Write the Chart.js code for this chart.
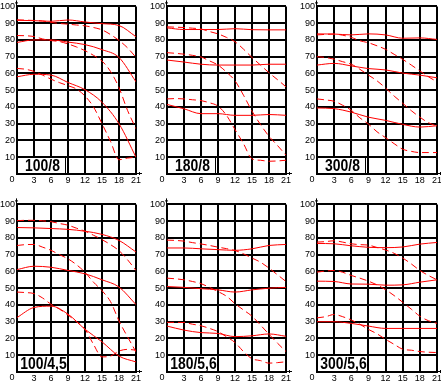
<!DOCTYPE html>
<html><head><meta charset="utf-8">
<script src="https://cdn.jsdelivr.net/npm/chart.js@4/dist/chart.umd.min.js"></script>
<style>
html,body{margin:0;padding:0;background:#fff;overflow:hidden;width:441px;height:382px;position:relative}
canvas{position:absolute;display:block}
</style></head><body>
<canvas id="c0"></canvas><canvas id="c1"></canvas><canvas id="c2"></canvas>
<canvas id="c3"></canvas><canvas id="c4"></canvas><canvas id="c5"></canvas>
<script>
// ---- data ----
const X_TICKS = [0,3,6,9,12,15,18,21];
const Y_TICKS = [0,10,20,30,40,50,60,70,80,90,100];
const XS = [0,3,6,9,12,15,18,21];                                   // solid-line sample positions
const XD = [0,1.5,3,4.5,6,7.5,9,10.5,12,13.5,15,16.5,18,19.5,21];    // dashed-line sample positions
const TITLES = ['100/8','180/8','300/8','100/4,5','180/5,6','300/5,6'];

// 100/8
const P1_S_TOP = [91.7,91.5,91.1,91.9,90.7,89.7,88.6,81.9];
const P1_D_TOP = [92,91.8,91.6,91.3,90.5,89.8,89.4,88.9,88.4,87.4,86,83.2,79.7,75.3,69.6];
const P1_S_MID = [78.5,80,80,78.7,77.2,74.2,69.5,55];
const P1_D_MID = [82.6,82.5,82,80.6,79.6,79,77.6,75.8,73.6,70.8,67.4,61.2,51.5,38,27];
const P1_S_LOW = [58,59.5,59,54.6,50.3,42.8,30,10];
const P1_D_LOW = [63,62.5,61.2,59,56.6,54.5,52.7,50.7,46.5,40,30,19.5,8.5,9.5,10];
// 180/8
const P2_S_TOP = [87.2,86.2,86.2,86.2,86.7,86.1,86,86];
const P2_D_TOP = [87.8,87.6,87.4,87,86.5,85,83.6,81.5,78.9,74.5,69.5,65,60.4,56.3,52];
const P2_S_MID = [68,66.8,65.5,65,65,65,65.5,65.5];
const P2_D_MID = [72.4,72,71.5,70.8,69.8,67.5,65,60.8,55.6,47,37.5,29.5,22.5,17,11.2];
const P2_S_LOW = [41.5,38.9,36,36,35,35,35.5,35];
const P2_D_LOW = [44.8,45,44.8,44.3,43.8,42.5,40.5,35,26.5,18.1,9,8.2,7.6,7.8,8.2];
// 300/8
const P3_S_TOP = [83.6,83.5,83,83.6,83,81,81.2,80.3];
const P3_D_TOP = [83,83.3,83.5,82.8,81.5,79.5,78.3,76.5,74.4,71.4,68.4,65,61.5,58,55];
const P3_S_MID = [65,66,64.5,62.9,62.1,60.2,59,57.4];
const P3_D_MID = [70,69.5,68.5,67,65.5,62.5,59,55.6,51.3,46.5,42.2,37.8,33.9,30.6,28.6];
const P3_S_LOW = [39.4,39,36.9,33.9,32,29.6,28,28.8];
const P3_D_LOW = [44.8,44.2,43.4,41,38,33.5,29.8,25.2,21.7,18.1,14.8,13.5,12.8,12.8,12.8];
// 100/4,5
const P4_S_TOP = [86.2,86,85.6,85.1,84,82.1,78.5,71.6];
const P4_D_TOP = [90.3,90.5,90.5,90.2,89.7,88.6,87.6,85.8,84,81.6,79,76,72.4,67,60.6];
const P4_S_MID = [61.1,63.1,62.5,60.6,58.6,55,50.7,40.2];
const P4_D_MID = [75.5,76,76.1,74.5,72.6,70,67.5,64,59.5,53.6,48.5,42,30.5,21,12];
const P4_S_LOW = [32.5,38.5,39.3,34.5,25.5,18,9.5,6];
const P4_D_LOW = [47.7,47.4,46.8,44.2,40.4,37.5,34,30,25.5,16.5,9,9.5,12.5,13.5,13];
// 180/5,6
const P5_S_TOP = [74,74,73.5,73,72.6,73.5,75.5,76.1];
const P5_D_TOP = [78.7,78.5,78.1,77.2,76.4,75.5,74.5,73.6,72.5,70.5,68,65.5,62,58,54];
const P5_S_MID = [51,50.5,49.7,49,47.7,49,50,50.5];
const P5_D_MID = [56,55.6,55,54,52.7,50.5,48,45.2,40.8,37,33.3,28,22.5,17.2,12.2];
const P5_S_LOW = [27.4,25,23.5,23,21.1,21.6,22.7,21.3];
const P5_D_LOW = [29.6,29.6,29.5,28.5,27.6,26,24.1,21,17.6,12.2,7.9,6.8,5.3,5.6,6.1];
// 300/5,6
const P6_S_TOP = [76.7,76.5,75.3,74.4,74.2,74.6,76.3,77.3];
const P6_D_TOP = [77.5,77.8,78.3,77.5,76.5,76,75.7,74.3,72.8,70.8,68,64.5,60.6,57.6,55];
const P6_S_MID = [54.2,54,52.5,52.4,51.8,52,53.6,55];
const P6_D_MID = [59.6,60.2,60.6,59.5,57.6,56,54.2,52,49.1,45.6,41.6,37.5,33.3,30.6,29];
const P6_S_LOW = [30,30,29,27.4,26,26,26,26];
const P6_D_LOW = [32.3,33,34.3,33,31,28.5,25.4,22.8,19.5,16.5,13.6,13,12.2,11.8,11.6];

const SERIES = [
  [P1_S_TOP,P1_D_TOP,P1_S_MID,P1_D_MID,P1_S_LOW,P1_D_LOW],
  [P2_S_TOP,P2_D_TOP,P2_S_MID,P2_D_MID,P2_S_LOW,P2_D_LOW],
  [P3_S_TOP,P3_D_TOP,P3_S_MID,P3_D_MID,P3_S_LOW,P3_D_LOW],
  [P4_S_TOP,P4_D_TOP,P4_S_MID,P4_D_MID,P4_S_LOW,P4_D_LOW],
  [P5_S_TOP,P5_D_TOP,P5_S_MID,P5_D_MID,P5_S_LOW,P5_D_LOW],
  [P6_S_TOP,P6_D_TOP,P6_S_MID,P6_D_MID,P6_S_LOW,P6_D_LOW]
];

// ---- layout ----
const AREAS = [
  {L:17,R:136,T:5,B:174},{L:167,R:286,T:5,B:174},{L:317,R:437,T:5,B:174},
  {L:17,R:136,T:203,B:372},{L:167,R:286,T:203,B:372},{L:317,R:437,T:203,B:372}
];
const AXW = 17, PT = 6, PR = 8, XH = 14;
const TICK_FONT = {family:'"Liberation Sans", Arial, sans-serif', size:9};
const RED = '#ff0000';

const decor = {
  id:'decor',
  afterDraw(chart){
    const ctx = chart.ctx, a = chart.chartArea, ys = chart.scales.y;
    const L = a.left, R = a.right, T = a.top, B = a.bottom;
    ctx.save();
    // axis arrows
    ctx.strokeStyle = '#000'; ctx.lineWidth = 1;
    ctx.beginPath();
    ctx.moveTo(L-0.5, T); ctx.lineTo(L-0.5, T-6);
    ctx.moveTo(L-2, T-3.5); ctx.lineTo(L+1, T-3.5);
    ctx.moveTo(R, B-0.5); ctx.lineTo(R+6, B-0.5);
    ctx.moveTo(R+3.5, B-2); ctx.lineTo(R+3.5, B+1);
    ctx.stroke();
    // corner "0"
    ctx.fillStyle = '#000';
    ctx.font = '9px "Liberation Sans", Arial, sans-serif';
    ctx.textAlign = 'center'; ctx.textBaseline = 'middle';
    ctx.fillText('0', L-5, B+5.5);
    // title box
    const title = chart.options.plugins.decor.title;
    ctx.font = 'bold 16px "Liberation Sans", Arial, sans-serif';
    const sx = 0.87;
    const tw = ctx.measureText(title).width * sx;
    const w = Math.max(48, Math.round(tw + 4));
    const y10 = Math.round(ys.getPixelForValue(10));
    ctx.fillStyle = '#fff';
    ctx.fillRect(L+1, y10+1, w-1, B-y10-2);
    ctx.fillStyle = '#000';
    ctx.fillRect(L+w, y10, 1, B-y10);
    ctx.save();
    ctx.translate(L + w/2 + 1.5, (y10+B)/2 + 1);
    ctx.scale(sx, 1);
    ctx.textAlign = 'center'; ctx.textBaseline = 'middle';
    ctx.fillText(title, 0, 0);
    ctx.restore();
    ctx.restore();
  }
};

AREAS.forEach((ar, i) => {
  const cv = document.getElementById('c'+i);
  const W = AXW + (ar.R - ar.L) + PR, H = PT + (ar.B - ar.T) + XH;
  cv.width = W; cv.height = H;
  cv.style.left = (ar.L - AXW) + 'px';
  cv.style.top = (ar.T - PT) + 'px';
  cv.style.width = W + 'px'; cv.style.height = H + 'px';
  const ds = SERIES[i].map((arr, k) => {
    const xs = (k % 2 === 0) ? XS : XD;
    return {
      data: xs.map((x, j) => ({x, y: arr[j]})),
      borderColor: RED, borderWidth: 1,
      borderDash: (k % 2 === 0) ? [] : [7,4],
      pointRadius: 0, fill: false,
      cubicInterpolationMode: 'monotone'
    };
  });
  new Chart(cv, {
    type: 'line',
    data: { datasets: ds },
    options: {
      responsive: false, animation: false, devicePixelRatio: 1,
      layout: { padding: { top: PT, right: PR, left: 0, bottom: 0 } },
      plugins: { legend: {display:false}, tooltip: {enabled:false}, decor: {title: TITLES[i]} },
      events: [],
      scales: {
        x: {
          type: 'linear', min: 0, max: 21,
          afterBuildTicks(s){ s.ticks = X_TICKS.map(v => ({value:v})); },
          afterFit(s){ s.height = XH; },
          ticks: { autoSkip:false, maxRotation:0, padding:1, font: TICK_FONT, color:'#000',
                   callback: v => v === 0 ? '' : String(v) },
          grid: { color:'#000', lineWidth:2, drawTicks:false },
          border: { display:true, color:'#000', width:2 }
        },
        y: {
          type: 'linear', min: 0, max: 100,
          afterBuildTicks(s){ s.ticks = Y_TICKS.map(v => ({value:v})); },
          afterFit(s){ s.width = AXW; },
          ticks: { padding:2, font: TICK_FONT, color:'#000',
                   callback: v => v === 0 ? '' : String(v) },
          grid: { color:'#000', lineWidth:2, drawTicks:false },
          border: { display:true, color:'#000', width:2 }
        }
      }
    },
    plugins: [decor]
  });
});
</script>
</body></html>
